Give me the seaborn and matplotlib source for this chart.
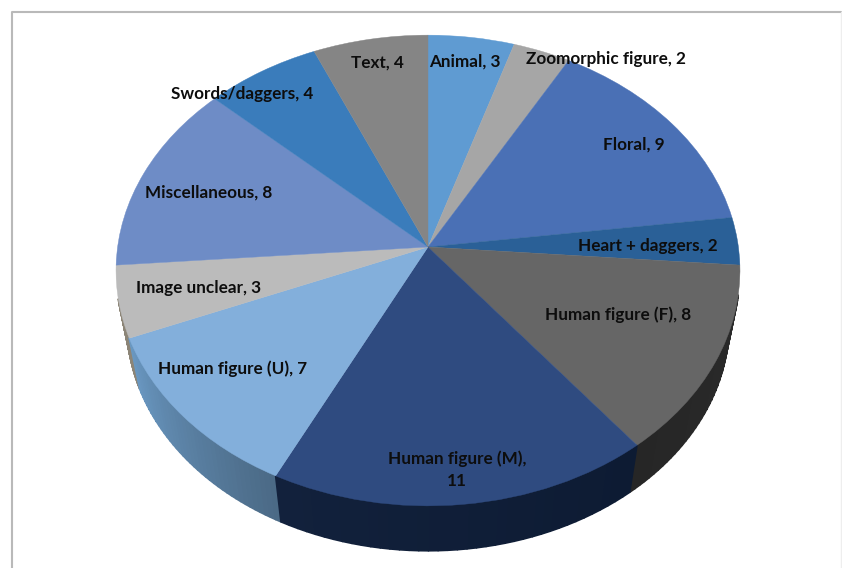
import numpy as np
import matplotlib
matplotlib.use("Agg")
import matplotlib.pyplot as plt
from matplotlib.collections import PolyCollection
from matplotlib.colors import to_rgb
from matplotlib.transforms import Transform
import seaborn as sns

categories = ["Animal", "Zoomorphic figure", "Floral", "Heart + daggers", "Human figure (F)",
              "Human figure (M)", "Human figure (U)", "Image unclear", "Miscellaneous",
              "Swords/daggers", "Text"]
values = [3, 2, 9, 2, 8, 11, 7, 3, 8, 4, 4]

top_colors = ["#5f9bd2", "#a6a6a6", "#4a70b5", "#2a6097", "#666666", "#2f4b80",
              "#83afdb", "#bbbbbb", "#6e8cc6", "#3a7cbb", "#858585"]
# rim colour at start / end of each slice (clockwise)
rim_start = ["#3c6285", "#696969", "#2e4672", "#1a3c5f", "#2b2b2b", "#0d1b33",
             "#4b6a86", "#8c8577", "#455880", "#244e76", "#545454"]
rim_end = ["#3c6285", "#696969", "#2e4672", "#1a3c5f", "#262626", "#12213c",
           "#6a98c2", "#8c8577", "#455880", "#244e76", "#545454"]

label_pos = [(465, 62), (606, 59), (634, 145), (648, 246), (618, 315), (457, 470),
             (233, 369), (199, 288), (209, 193), (242, 94), (377, 63)]

sns.set_theme(style="white")
plt.rcParams["font.family"] = ["Lato", "DejaVu Sans"]

# perspective of the tilted disc, in pixels of the picture
CX, CY = 428, 247
A, B, K = 310.4, 233.0, 0.0998


def project(x, y, scale=1.0, drop=0.0):
    w = 1 + K * y
    return CX + scale * A * x / w, CY + drop - scale * B * y / w


class Tilt(Transform):
    input_dims = 2
    output_dims = 2

    def transform_non_affine(self, xy):
        xy = np.asarray(xy, dtype=float)
        px, py = project(xy[:, 0], xy[:, 1])
        return np.column_stack([px, py])


fig = plt.figure(figsize=(8.42, 5.68), dpi=100)
ax = fig.add_axes([0, 0, 1, 1])

# side of the disc, thin strips from the slice edges (front part only)
edges = np.cumsum([0] + values) / sum(values) * 2 * np.pi
quads, cols, depth = [], [], []
for i in range(len(values)):
    steps = np.linspace(edges[i], edges[i + 1], 40)
    c0, c1 = np.array(to_rgb(rim_start[i])), np.array(to_rgb(rim_end[i]))
    for j in range(len(steps) - 1):
        t0, t1 = steps[j], steps[j + 1]
        if np.cos(t0) > -0.22 and np.cos(t1) > -0.22:
            continue
        p = [project(np.sin(t0), np.cos(t0)), project(np.sin(t1), np.cos(t1)),
             project(np.sin(t1), np.cos(t1), 0.965, 54), project(np.sin(t0), np.cos(t0), 0.965, 54)]
        quads.append(p)
        cols.append(c0 + (c1 - c0) * j / (len(steps) - 2))
        depth.append(-np.cos(t0))
order = np.argsort(depth)
rim = PolyCollection([quads[i] for i in order], facecolors=[cols[i] for i in order],
                     edgecolors=[cols[i] for i in order], linewidths=1.2, zorder=1)
ax.add_collection(rim)

pal = sns.color_palette(top_colors)
wedges, _ = ax.pie(values, colors=pal, startangle=90, counterclock=False)
for w, c in zip(wedges, pal):
    w.set_transform(Tilt() + ax.transData)
    w.set_zorder(2)
    w.set_edgecolor(c)
    w.set_linewidth(0.3)

ax.set_aspect("auto")
ax.set_xlim(0, 842)
ax.set_ylim(568, 0)
ax.axis("off")

for name, v, (x, y) in zip(categories, values, label_pos):
    txt = f"{name}, {v}"
    if name == "Human figure (M)":
        txt = f"{name},\n{v}"
    ax.text(x, y, txt, ha="center", va="center", fontsize=12.3, fontweight="bold",
            color="#0d0d0d", linespacing=1.45, zorder=3)

# chart frame
ax.plot([11.5, 11.5, 841], [568, 11.5, 11.5], color="#b9b9b9", lw=1.5, zorder=0)
ax.plot([841, 841], [11.5, 568], color="#eeeeee", lw=1, zorder=0)

fig.savefig("out.png", dpi=100)
